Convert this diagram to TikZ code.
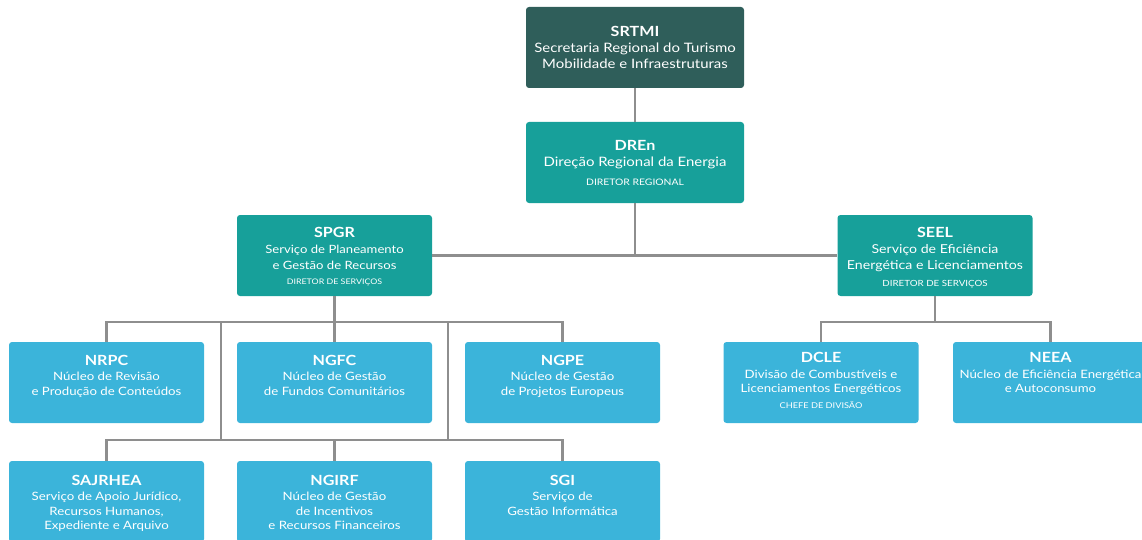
\documentclass[tikz,border=0pt]{standalone}
\usepackage{fontspec}
\setmainfont{Lato}[FakeStretch=1.15]
\definecolor{srtmicol}{HTML}{2F5E5A}
\definecolor{tealcol}{HTML}{17A09A}
\definecolor{bluecol}{HTML}{3BB4DA}
\definecolor{linecol}{HTML}{8E8E8E}
% box content: width, top offset, body
\newcommand\bx[3]{\parbox[t][81pt][t]{#1pt}{\centering\vspace*{#2pt}#3}}
\newcommand\acr[1]{{\fontsize{14}{14}\selectfont\bfseries #1\par}}
\newcommand\subt[2]{{\fontsize{#1}{16}\selectfont #2\par}}
\newcommand\rsubt[1]{\vspace{1pt}{\fontsize{11.5}{14.5}\selectfont #1\par}}
\newcommand\rolet[3]{\vspace{#2pt}{\fontsize{#1}{16}\selectfont #3\par}}
\begin{document}
\begin{tikzpicture}[x=1pt,y=-1pt,
  line/.style={draw=linecol,line width=2.4pt},
  box/.style={rounded corners=3pt,inner sep=0pt,text=white},
  topbox/.style={box,fill=srtmicol},
  midbox/.style={box,fill=tealcol},
  lowbox/.style={box,fill=bluecol}]
\clip (0,0) rectangle (1142,540);
% nodes
\node[topbox] (SRTMI) at (635,47.5) {\bx{218}{19.5}{\acr{SRTMI}\subt{13}{Secretaria Regional do Turismo\\Mobilidade e Infraestruturas}}};
\node[midbox] (DREn) at (635,162.5) {\bx{218}{18}{\acr{DREn}\subt{13}{Direção Regional da Energia}\rolet{9}{3}{DIRETOR REGIONAL}}};
\node[midbox] (SPGR) at (334.5,255.5) {\bx{195}{12}{\acr{SPGR}\subt{11.4}{Serviço de Planeamento\\e Gestão de Recursos}\rolet{7.7}{-0.5}{DIRETOR DE SERVIÇOS}}};
\node[midbox] (SEEL) at (935,255.5) {\bx{195}{12}{\acr{SEEL}\subt{12.3}{Serviço de Eficiência\\Energética e Licenciamentos}\rolet{8.5}{1}{DIRETOR DE SERVIÇOS}}};
\node[lowbox] (NRPC) at (106.5,382.5) {\bx{195}{13}{\acr{NRPC}\rsubt{Núcleo de Revisão\\e Produção de Conteúdos}}};
\node[lowbox] (NGFC) at (334.5,382.5) {\bx{195}{13}{\acr{NGFC}\rsubt{Núcleo de Gestão\\de Fundos Comunitários}}};
\node[lowbox] (NGPE) at (562.5,382.5) {\bx{195}{13}{\acr{NGPE}\rsubt{Núcleo de Gestão\\de Projetos Europeus}}};
\node[lowbox] (DCLE) at (821,382.5) {\bx{195}{10.5}{\acr{DCLE}\rsubt{Divisão de Combustíveis e\\Licenciamentos Energéticos}\rolet{8}{0}{CHEFE DE DIVISÃO}}};
\node[lowbox] (NEEA) at (1050.5,382.5) {\bx{195}{10.5}{\acr{NEEA}\rsubt{Núcleo de Eficiência Energética\\e Autoconsumo}}};
\node[lowbox] (SAJRHEA) at (106.5,501.5) {\bx{195}{14}{\acr{SAJRHEA}\rsubt{Serviço de Apoio Jurídico,\\Recursos Humanos,\\Expediente e Arquivo}}};
\node[lowbox] (NGIRF) at (334.5,501.5) {\bx{195}{14}{\acr{NGIRF}\rsubt{Núcleo de Gestão\\de Incentivos\\e Recursos Financeiros}}};
\node[lowbox] (SGI) at (562.5,501.5) {\bx{195}{14}{\acr{SGI}\rsubt{Serviço de\\Gestão Informática}}};
% junction coordinates
\coordinate (j1) at (0,322);
\coordinate (j2) at (0,440);
\coordinate (v1) at (221,322);
\coordinate (v1b) at (221,440);
\coordinate (v2) at (448,322);
\coordinate (v2b) at (448,440);
% connectors
\draw[line] (SRTMI.south) -- (DREn.north);
\draw[line] (DREn.south) -- (DREn.south |- SPGR.east);
\draw[line] (SPGR.east) -- (SEEL.west);
\draw[line] (SPGR.south) -- (SPGR.south |- j1);
\draw[line] (NRPC.north) -- (NRPC.north |- j1) -- (NGPE.north |- j1) -- (NGPE.north);
\draw[line] (NGFC.north) -- (NGFC.north |- j1);
\draw[line] (v1) -- (v1b);
\draw[line] (v2) -- (v2b);
\draw[line] (SAJRHEA.north) -- (SAJRHEA.north |- j2) -- (SGI.north |- j2) -- (SGI.north);
\draw[line] (NGIRF.north) -- (NGIRF.north |- j2);
\draw[line] (SEEL.south) -- (SEEL.south |- j1);
\draw[line] (DCLE.north) -- (DCLE.north |- j1) -- (NEEA.north |- j1) -- (NEEA.north);
\end{tikzpicture}
\end{document}
